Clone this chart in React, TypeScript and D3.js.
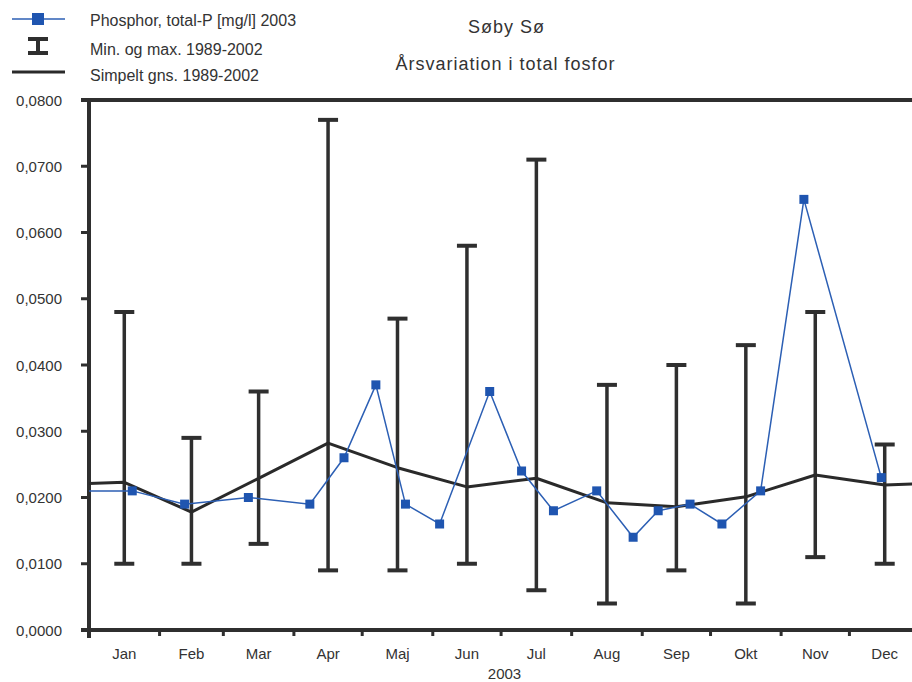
import React, { useRef, useEffect } from "react";
import * as d3 from "d3";

// monthly statistics 1989-2002
const months = ["Jan", "Feb", "Mar", "Apr", "Maj", "Jun", "Jul", "Aug", "Sep", "Okt", "Nov", "Dec"];
const minValues = [0.010, 0.010, 0.013, 0.009, 0.009, 0.010, 0.006, 0.004, 0.009, 0.004, 0.011, 0.010];
const maxValues = [0.048, 0.029, 0.036, 0.077, 0.047, 0.058, 0.071, 0.037, 0.040, 0.043, 0.048, 0.028];
const meanValues = [0.0223, 0.0178, 0.0229, 0.0282, 0.0245, 0.0216, 0.0229, 0.0192, 0.0186, 0.0201, 0.0234, 0.0219];

// samples 2003 (first one is the december sample before the chart starts)
const sampleDates = [
  "2002-12-10", "2003-01-20", "2003-02-12", "2003-03-12", "2003-04-08", "2003-04-23",
  "2003-05-07", "2003-05-20", "2003-06-04", "2003-06-26", "2003-07-10", "2003-07-24",
  "2003-08-12", "2003-08-28", "2003-09-08", "2003-09-22", "2003-10-06", "2003-10-23",
  "2003-11-11", "2003-12-15",
];
const sampleValues = [
  0.021, 0.021, 0.019, 0.020, 0.019, 0.026,
  0.037, 0.019, 0.016, 0.036, 0.024, 0.018,
  0.021, 0.014, 0.018, 0.019, 0.016, 0.021,
  0.065, 0.023,
];

const yTicks = [0, 0.01, 0.02, 0.03, 0.04, 0.05, 0.06, 0.07, 0.08];
const legendLabels = ["Phosphor, total-P [mg/l] 2003", "Min. og max. 1989-2002", "Simpelt gns. 1989-2002"];
const title = "Søby Sø";
const subtitle = "Årsvariation i total fosfor";
const xTitle = "2003";

const ink = "#2f2f2f";
const blue = "#2c5fb4";
const font = "'Liberation Sans', Arial, sans-serif";

const App = () => {
  const svgRef = useRef<SVGSVGElement>(null);

  useEffect(() => {
    const svg = d3.select(svgRef.current);
    svg.selectAll("*").remove();

    const parse = d3.timeParse("%Y-%m-%d");
    const start = new Date(2003, 0, 1);
    const end = new Date(2004, 0, 1);

    const x = d3.scaleTime().domain([start, end]).range([89, 920]);
    const y = d3.scaleLinear().domain([0, 0.08]).range([630, 100]);
    const fmt = d3.formatLocale({ decimal: ",", thousands: ".", grouping: [3], currency: ["", " kr"] }).format(".4f");

    const mid = (d: Date) => new Date((+d + +d3.timeMonth.offset(d, 1)) / 2);
    const monthStarts = d3.timeMonth.range(start, end);
    const mids = monthStarts.map(mid);

    svg.append("defs")
      .append("clipPath")
      .attr("id", "plot-clip")
      .append("rect")
      .attr("x", 89)
      .attr("y", 90)
      .attr("width", 831)
      .attr("height", 550);

    // frame and axes
    const axes = svg.append("g").attr("stroke", ink).attr("stroke-linecap", "butt");
    axes.append("line").attr("x1", 81).attr("x2", 920).attr("y1", y(0.08)).attr("y2", y(0.08)).attr("stroke-width", 4);
    axes.append("line").attr("x1", 81).attr("x2", 920).attr("y1", y(0)).attr("y2", y(0)).attr("stroke-width", 4);
    axes.append("line").attr("x1", x(start)).attr("x2", x(start)).attr("y1", 98).attr("y2", 638).attr("stroke-width", 4);

    axes.selectAll(".ytick")
      .data(yTicks)
      .enter()
      .append("line")
      .attr("x1", 81)
      .attr("x2", 89)
      .attr("y1", (d) => y(d))
      .attr("y2", (d) => y(d))
      .attr("stroke-width", 3);

    axes.selectAll(".xtick")
      .data(monthStarts.slice(1))
      .enter()
      .append("line")
      .attr("x1", (d) => x(d))
      .attr("x2", (d) => x(d))
      .attr("y1", y(0))
      .attr("y2", y(0) + 6)
      .attr("stroke-width", 3);

    const labels = svg.append("g").attr("font-family", font).attr("fill", "#333").attr("font-size", 15);

    labels.selectAll(".ylabel")
      .data(yTicks)
      .enter()
      .append("text")
      .attr("x", 62)
      .attr("y", (d) => y(d) + 5.5)
      .attr("text-anchor", "end")
      .text((d) => fmt(d));

    labels.selectAll(".xlabel")
      .data(mids)
      .enter()
      .append("text")
      .attr("x", (d) => x(d))
      .attr("y", 659)
      .attr("text-anchor", "middle")
      .text((d, i) => months[i]);

    labels.append("text")
      .attr("x", (x(start) + x(end)) / 2)
      .attr("y", 679)
      .attr("text-anchor", "middle")
      .text(xTitle);

    labels.append("text")
      .attr("x", 506)
      .attr("y", 33)
      .attr("text-anchor", "middle")
      .attr("font-size", 18)
      .attr("textLength", 76)
      .text(title);

    labels.append("text")
      .attr("x", 505)
      .attr("y", 70)
      .attr("text-anchor", "middle")
      .attr("font-size", 18)
      .attr("textLength", 219)
      .text(subtitle);

    // min / max bars
    const bars = svg.append("g").attr("stroke", ink);
    mids.forEach((d, i) => {
      const cx = x(d);
      bars.append("line").attr("x1", cx).attr("x2", cx).attr("y1", y(maxValues[i])).attr("y2", y(minValues[i])).attr("stroke-width", 3.5);
      [maxValues[i], minValues[i]].forEach((v) => {
        bars.append("line").attr("x1", cx - 10).attr("x2", cx + 10).attr("y1", y(v)).attr("y2", y(v)).attr("stroke-width", 4);
      });
    });

    const plot = svg.append("g").attr("clip-path", "url(#plot-clip)");

    // 2003 samples
    const samples = sampleDates.map((s, i) => ({ date: parse(s) as Date, value: sampleValues[i] }));
    const line = d3
      .line<{ date: Date; value: number }>()
      .x((d) => x(d.date))
      .y((d) => y(d.value));

    // mean line, wrapping december before and january after
    const meanData = [
      { date: mid(new Date(2002, 11, 1)), value: meanValues[11] },
      ...mids.map((d, i) => ({ date: d, value: meanValues[i] })),
      { date: mid(new Date(2004, 0, 1)), value: meanValues[0] },
    ];
    plot.append("path")
      .datum(meanData)
      .attr("fill", "none")
      .attr("stroke", "#2a2a2a")
      .attr("stroke-width", 3)
      .attr("stroke-linejoin", "round")
      .attr("d", line);

    plot.append("path")
      .datum(samples)
      .attr("fill", "none")
      .attr("stroke", blue)
      .attr("stroke-width", 1.5)
      .attr("d", line);

    plot.selectAll(".point")
      .data(samples.slice(1))
      .enter()
      .append("rect")
      .attr("x", (d) => x(d.date) - 4.5)
      .attr("y", (d) => y(d.value) - 4.5)
      .attr("width", 9)
      .attr("height", 9)
      .attr("fill", "#1f55b0");

    // legend
    const legend = svg.append("g");
    legend.append("line").attr("x1", 12).attr("x2", 65).attr("y1", 19).attr("y2", 19).attr("stroke", blue).attr("stroke-width", 1.5);
    legend.append("rect").attr("x", 32).attr("y", 13).attr("width", 12).attr("height", 12).attr("fill", "#1f55b0");
    legend.append("line").attr("x1", 38).attr("x2", 38).attr("y1", 39).attr("y2", 53).attr("stroke", ink).attr("stroke-width", 4);
    legend.append("line").attr("x1", 28).attr("x2", 48).attr("y1", 39).attr("y2", 39).attr("stroke", ink).attr("stroke-width", 4);
    legend.append("line").attr("x1", 28).attr("x2", 48).attr("y1", 53).attr("y2", 53).attr("stroke", ink).attr("stroke-width", 4);
    legend.append("line").attr("x1", 12).attr("x2", 65).attr("y1", 72).attr("y2", 72).attr("stroke", "#2a2a2a").attr("stroke-width", 3);

    legend.selectAll("text")
      .data(legendLabels)
      .enter()
      .append("text")
      .attr("x", 90)
      .attr("y", (d, i) => [26, 55, 81][i])
      .attr("font-family", font)
      .attr("font-size", 16)
      .attr("fill", "#333")
      .text((d) => d);
  }, []);

  return (
    <svg
      ref={svgRef}
      width={912}
      height={682}
      style={{ position: "absolute", left: 0, top: 0, background: "#fff" }}
    ></svg>
  );
};

export default App;
